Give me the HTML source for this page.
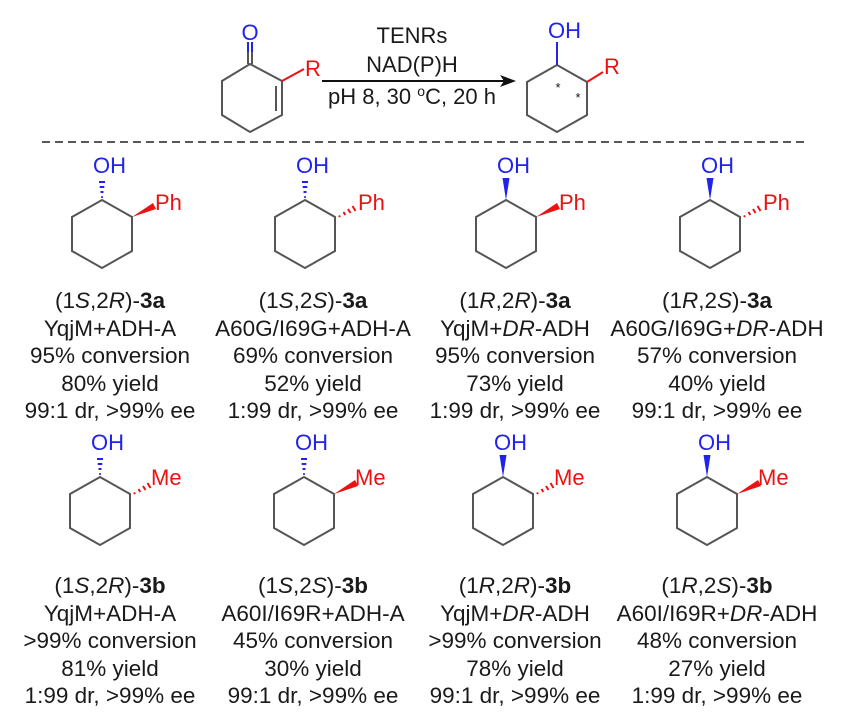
<!DOCTYPE html>
<html><head><meta charset="utf-8"><style>
html,body{margin:0;padding:0;background:#fff;}
svg{display:block;font-family:"Liberation Sans",Arial,sans-serif;}
.t{font-size:22.5px;fill:#1a1a1a;text-anchor:middle;}
.r{font-size:22px;fill:#1a1a1a;text-anchor:middle;}
.b{fill:#2222ee;font-size:22px;}
.rd{fill:#ee1111;font-size:22px;}
</style></head><body>
<svg width="864" height="717" viewBox="0 0 864 717" xmlns="http://www.w3.org/2000/svg">
<defs>
<path id="ring" d="M0,0 L30,17 L30,51 L0,68 L-30,51 L-30,17 Z" fill="none" stroke="#555" stroke-width="2"/>
<polygon id="ohw" points="0,0 -3.5,-22 3.5,-22" fill="#2222ee"/>
<g id="ohh" stroke="#2222ee">
<line x1="-0.8" y1="-3" x2="0.8" y2="-3" stroke-width="2"/>
<line x1="-1.5" y1="-8" x2="1.5" y2="-8" stroke-width="2"/>
<line x1="-2.3" y1="-13" x2="2.3" y2="-13" stroke-width="2"/>
<line x1="-3" y1="-18" x2="3" y2="-18" stroke-width="2"/>
</g>
<polygon id="sw" points="30,17 51,3 54,9" fill="#ee1111"/>
<g id="sh" stroke="#ee1111" stroke-width="2">
<line x1="34" y1="15.5" x2="35" y2="17"/>
<line x1="38.5" y1="12" x2="40.3" y2="15"/>
<line x1="43" y1="9" x2="45.5" y2="13"/>
<line x1="47.5" y1="6" x2="50.5" y2="11"/>
</g>
</defs>

<!-- reaction -->
<g>
<path d="M250,64 L282,81 L282,115 L250,132 L222,115 L222,81 Z" fill="none" stroke="#555" stroke-width="2"/>
<line x1="276" y1="86" x2="276" y2="111" stroke="#555" stroke-width="2"/>
<line x1="248" y1="64" x2="248" y2="52" stroke="#555" stroke-width="2"/>
<line x1="252" y1="64" x2="252" y2="52" stroke="#555" stroke-width="2"/>
<line x1="248" y1="52" x2="248" y2="42" stroke="#2222ee" stroke-width="2"/>
<line x1="252" y1="52" x2="252" y2="42" stroke="#2222ee" stroke-width="2"/>
<text x="250" y="40" class="b" text-anchor="middle">O</text>
<line x1="282" y1="81" x2="304" y2="69" stroke="#ee1111" stroke-width="2"/>
<text x="305" y="76" class="rd">R</text>
<line x1="322" y1="81" x2="505" y2="81" stroke="#111" stroke-width="2"/>
<polygon points="516,81 500,75 504,81 500,87" fill="#111"/>
<text x="412" y="43" class="r">TENRs</text>
<text x="412" y="72" class="r">NAD(P)H</text>
<text x="412" y="104" class="r">pH 8, 30 <tspan dy="-8" font-size="14">o</tspan><tspan dy="8">C, 20 h</tspan></text>
<path d="M557,65 L587,82 L587,115 L557,132 L527,115 L527,82 Z" fill="none" stroke="#555" stroke-width="2"/>
<line x1="557" y1="65" x2="557" y2="42" stroke="#2222ee" stroke-width="2"/>
<text x="548" y="38" class="b">OH</text>
<line x1="587" y1="82" x2="603" y2="72" stroke="#ee1111" stroke-width="2"/>
<text x="604" y="74" class="rd">R</text>
<text x="558" y="92" font-size="13" fill="#111" text-anchor="middle">*</text>
<text x="578" y="102" font-size="13" fill="#111" text-anchor="middle">*</text>
</g>

<line x1="42" y1="142" x2="808" y2="142" stroke="#222" stroke-width="1.6" stroke-dasharray="8,5"/>

<!-- row 1 -->
<g transform="translate(102,200)"><use href="#ring"/><use href="#ohh"/><use href="#sw"/><text x="-9" y="-27" class="b">OH</text><text x="53" y="10" class="rd">Ph</text></g>
<g transform="translate(305,200)"><use href="#ring"/><use href="#ohh"/><use href="#sh"/><text x="-9" y="-27" class="b">OH</text><text x="53" y="10" class="rd">Ph</text></g>
<g transform="translate(506,200)"><use href="#ring"/><use href="#ohw"/><use href="#sw"/><text x="-9" y="-27" class="b">OH</text><text x="53" y="10" class="rd">Ph</text></g>
<g transform="translate(710,200)"><use href="#ring"/><use href="#ohw"/><use href="#sh"/><text x="-9" y="-27" class="b">OH</text><text x="53" y="10" class="rd">Ph</text></g>

<g class="t">
<text x="110" y="308" class="t">(1<tspan font-style="italic">S</tspan>,2<tspan font-style="italic">R</tspan>)-<tspan font-weight="bold">3a</tspan></text>
<text x="110" y="336" class="t">YqjM+ADH-A</text>
<text x="110" y="363" class="t">95% conversion</text>
<text x="110" y="391" class="t">80% yield</text>
<text x="110" y="418" class="t">99:1 dr, &gt;99% ee</text>

<text x="313" y="308" class="t">(1<tspan font-style="italic">S</tspan>,2<tspan font-style="italic">S</tspan>)-<tspan font-weight="bold">3a</tspan></text>
<text x="313" y="336" class="t">A60G/I69G+ADH-A</text>
<text x="313" y="363" class="t">69% conversion</text>
<text x="313" y="391" class="t">52% yield</text>
<text x="313" y="418" class="t">1:99 dr, &gt;99% ee</text>

<text x="515" y="308" class="t">(1<tspan font-style="italic">R</tspan>,2<tspan font-style="italic">R</tspan>)-<tspan font-weight="bold">3a</tspan></text>
<text x="515" y="336" class="t">YqjM+<tspan font-style="italic">DR</tspan>-ADH</text>
<text x="515" y="363" class="t">95% conversion</text>
<text x="515" y="391" class="t">73% yield</text>
<text x="515" y="418" class="t">1:99 dr, &gt;99% ee</text>

<text x="717" y="308" class="t">(1<tspan font-style="italic">R</tspan>,2<tspan font-style="italic">S</tspan>)-<tspan font-weight="bold">3a</tspan></text>
<text x="717" y="336" class="t">A60G/I69G+<tspan font-style="italic">DR</tspan>-ADH</text>
<text x="717" y="363" class="t">57% conversion</text>
<text x="717" y="391" class="t">40% yield</text>
<text x="717" y="418" class="t">99:1 dr, &gt;99% ee</text>
</g>

<!-- row 2 -->
<g transform="translate(100,477)"><use href="#ring"/><use href="#ohh"/><use href="#sh"/><text x="-9" y="-27" class="b">OH</text><text x="51" y="8" class="rd">Me</text></g>
<g transform="translate(304,477)"><use href="#ring"/><use href="#ohh"/><use href="#sw"/><text x="-9" y="-27" class="b">OH</text><text x="51" y="8" class="rd">Me</text></g>
<g transform="translate(503,477)"><use href="#ring"/><use href="#ohw"/><use href="#sh"/><text x="-9" y="-27" class="b">OH</text><text x="51" y="8" class="rd">Me</text></g>
<g transform="translate(707,477)"><use href="#ring"/><use href="#ohw"/><use href="#sw"/><text x="-9" y="-27" class="b">OH</text><text x="51" y="8" class="rd">Me</text></g>

<g>
<text x="110" y="593" class="t">(1<tspan font-style="italic">S</tspan>,2<tspan font-style="italic">R</tspan>)-<tspan font-weight="bold">3b</tspan></text>
<text x="110" y="621" class="t">YqjM+ADH-A</text>
<text x="110" y="648" class="t">&gt;99% conversion</text>
<text x="110" y="676" class="t">81% yield</text>
<text x="110" y="703" class="t">1:99 dr, &gt;99% ee</text>

<text x="313" y="593" class="t">(1<tspan font-style="italic">S</tspan>,2<tspan font-style="italic">S</tspan>)-<tspan font-weight="bold">3b</tspan></text>
<text x="313" y="621" class="t">A60I/I69R+ADH-A</text>
<text x="313" y="648" class="t">45% conversion</text>
<text x="313" y="676" class="t">30% yield</text>
<text x="313" y="703" class="t">99:1 dr, &gt;99% ee</text>

<text x="515" y="593" class="t">(1<tspan font-style="italic">R</tspan>,2<tspan font-style="italic">R</tspan>)-<tspan font-weight="bold">3b</tspan></text>
<text x="515" y="621" class="t">YqjM+<tspan font-style="italic">DR</tspan>-ADH</text>
<text x="515" y="648" class="t">&gt;99% conversion</text>
<text x="515" y="676" class="t">78% yield</text>
<text x="515" y="703" class="t">99:1 dr, &gt;99% ee</text>

<text x="717" y="593" class="t">(1<tspan font-style="italic">R</tspan>,2<tspan font-style="italic">S</tspan>)-<tspan font-weight="bold">3b</tspan></text>
<text x="717" y="621" class="t">A60I/I69R+<tspan font-style="italic">DR</tspan>-ADH</text>
<text x="717" y="648" class="t">48% conversion</text>
<text x="717" y="676" class="t">27% yield</text>
<text x="717" y="703" class="t">1:99 dr, &gt;99% ee</text>
</g>
</svg>
</body></html>
